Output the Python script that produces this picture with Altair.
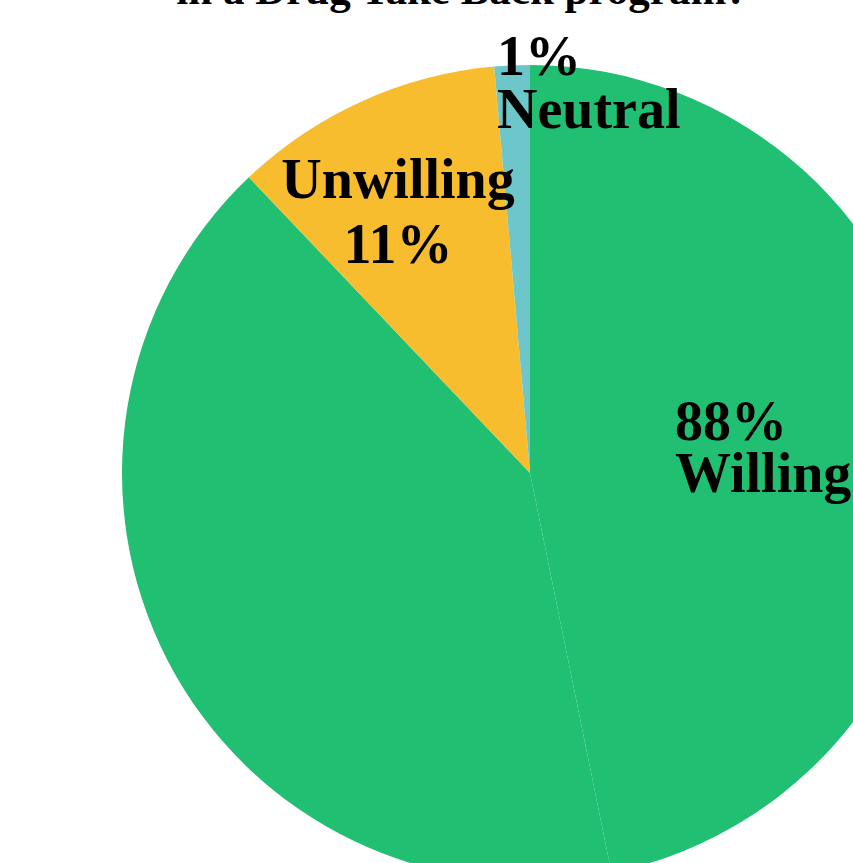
import altair as alt
import pandas as pd

# Survey answers (percent of respondents); the willing share is split into two answers
answers = ["Very willing", "Somewhat willing", "Unwilling", "Neutral"]
groups = ["Willing", "Willing", "Unwilling", "Neutral"]
percents = [46.8, 41.1, 10.7, 1.4]

group_names = ["Willing", "Unwilling", "Neutral"]
group_colors = ["#20BF72", "#F7BD2F", "#6DC6C9"]

title_line = "in a Drug Take Back program?"

slices = pd.DataFrame({
    "answer": answers,
    "group": groups,
    "pct": percents,
    "order": list(range(len(answers))),
})

totals = slices.groupby("group")["pct"].sum()
share = {g: int(round(totals[g])) for g in group_names}

W, H = 853, 863
CX, CY, R = 530, 473, 408
FONT = "Liberation Serif"

pie = alt.Chart(slices).mark_arc(outerRadius=R).encode(
    theta=alt.Theta("pct:Q", stack=True),
    color=alt.Color("group:N",
                    scale=alt.Scale(domain=group_names, range=group_colors),
                    legend=None),
    order=alt.Order("order:Q"),
    x=alt.value(CX),
    y=alt.value(CY),
)


def label(text, x, y, align, line_height, size=56):
    return alt.Chart().mark_text(
        text=text,
        font=FONT,
        fontWeight="bold",
        fontSize=size,
        color="black",
        align=align,
        baseline="alphabetic",
        lineHeight=line_height,
    ).encode(x=alt.value(x), y=alt.value(y))


unwilling_lbl = label(["Unwilling", f"{share['Unwilling']}%"], CX - 132, CY - 275, "center", 65)
neutral_lbl = label([f"{share['Neutral']}%", "Neutral"], CX - 33, CY - 398, "left", 53)
willing_lbl = label([f"{share['Willing']}%", "Willing"], CX + 145, CY - 33, "left", 52)

title = alt.Chart().mark_text(
    text=title_line,
    font=FONT,
    fontWeight="bold",
    fontSize=43,
    color="black",
    align="center",
    baseline="alphabetic",
).encode(x=alt.value(462), y=alt.value(4))

chart = alt.layer(pie, unwilling_lbl, neutral_lbl, willing_lbl, title).properties(
    width=W,
    height=H,
    padding=0,
    autosize=alt.AutoSizeParams(type="none"),
    background="white",
).configure_view(stroke=None)

chart.save("out.html", embed_options={"renderer": "svg", "actions": False})
